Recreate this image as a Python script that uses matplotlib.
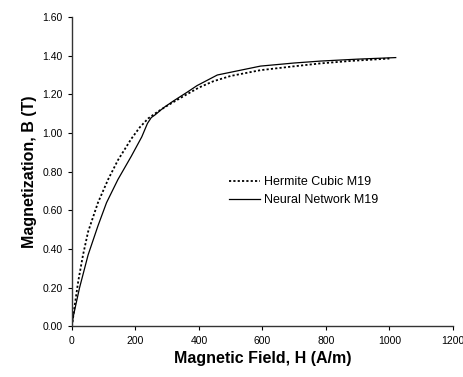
import matplotlib
matplotlib.use("Agg")
import matplotlib.pyplot as plt

# Hermite cubic fit (dotted)
hermite_h = [0, 8, 20, 35, 51, 82, 114, 145, 187, 214, 240, 270, 299, 351,
             400, 446, 500, 594, 700, 783, 880, 1000]
hermite_b = [0, 0.10, 0.235, 0.37, 0.49, 0.64, 0.76, 0.86, 0.97, 1.03, 1.075,
             1.11, 1.14, 1.19, 1.235, 1.268, 1.295, 1.325, 1.345, 1.36, 1.373, 1.385]

# Neural network fit (solid)
neural_h = [0, 4, 24, 51, 82, 109, 145, 187, 220, 238, 250, 262, 288, 320, 362,
            394, 458, 594, 700, 783, 900, 1020]
neural_b = [0, 0.05, 0.20, 0.37, 0.52, 0.64, 0.76, 0.88, 0.98, 1.05, 1.08, 1.094,
            1.13, 1.166, 1.21, 1.245, 1.30, 1.346, 1.362, 1.372, 1.382, 1.39]

x_ticks = [0, 200, 400, 600, 800, 1000, 1200]
y_ticks = [0.0, 0.2, 0.4, 0.6, 0.8, 1.0, 1.2, 1.4, 1.6]

plt.rcParams["font.family"] = ["Liberation Sans", "DejaVu Sans"]

fig = plt.figure(figsize=(4.64, 3.77), dpi=100)
ax = fig.add_axes([0.155, 0.134, 0.821, 0.821])

ax.plot(hermite_h, hermite_b, color="black", linestyle=(0, (1.2, 1.2)),
        linewidth=1.3, label="Hermite Cubic M19")
ax.plot(neural_h, neural_b, color="black", linestyle="-",
        linewidth=0.9, label="Neural Network M19")

ax.set_xlim(0, 1200)
ax.set_ylim(0, 1.6)
ax.set_xticks(x_ticks)
ax.set_yticks(y_ticks)
ax.set_yticklabels([f"{v:.2f}" for v in y_ticks])
ax.tick_params(labelsize=7.5, length=3, width=0.8, direction="out")

for side in ["top", "right"]:
    ax.spines[side].set_visible(False)
for side in ["left", "bottom"]:
    ax.spines[side].set_linewidth(1.0)
    ax.spines[side].set_color("#333333")

ax.set_xlabel("Magnetic Field, H (A/m)", fontsize=11.5, fontweight="bold", labelpad=4)
ax.set_ylabel("Magnetization, B (T)", fontsize=11.5, fontweight="bold", labelpad=4)

ax.legend(loc="center left", bbox_to_anchor=(0.383, 0.437), frameon=False,
          fontsize=9, handlelength=2.5, handletextpad=0.3, labelspacing=0.5)

fig.savefig("out.png", dpi=100)
